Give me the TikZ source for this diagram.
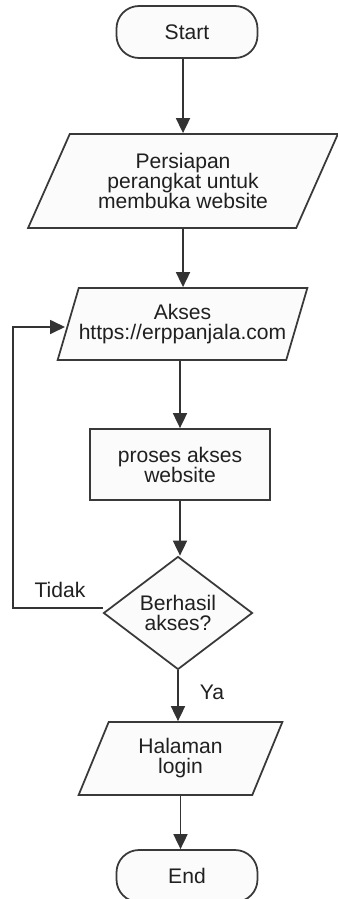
\documentclass[tikz,border=0pt]{standalone}
\usepackage{fontspec}
\setmainfont{Liberation Sans}
\usepackage{tikz}
\usetikzlibrary{shapes.geometric, arrows.meta, positioning}

\begin{document}
\begin{tikzpicture}[
    terminal/.style={rectangle, rounded corners=0.45cm, draw=gray!45!black, line width=1pt,
                     fill=gray!3, minimum width=2.82cm, minimum height=1.04cm},
    io/.style={trapezium, trapezium left angle=#1, trapezium right angle=180-#1,
               trapezium stretches=true, draw=gray!45!black, line width=1pt,
               fill=gray!3, inner sep=0pt, align=center},
    process/.style={rectangle, draw=gray!45!black, line width=1pt, fill=gray!3,
                    minimum width=3.6cm, minimum height=1.42cm, align=center},
    decision/.style={diamond, draw=gray!45!black, line width=1pt, fill=gray!3,
                     minimum width=2.98cm, minimum height=2.26cm, inner sep=0pt, align=center},
    label/.style={text=gray!25!black},
    flow/.style={-{Triangle[length=3mm, width=2.8mm]}, line width=1pt, draw=gray!40!black},
    font=\fontsize{12pt}{11.4pt}\selectfont, text=gray!25!black
]
    \useasboundingbox (0,0) rectangle (6.74,-17.98);

    % Start and first input
    \node[terminal] (start) at (3.74, -0.64) {Start};
    \node[io=60.6, minimum width=6.2cm, minimum height=1.88cm] (siap) at (3.66, -3.62)
        {Persiapan\\perangkat untuk\\membuka website};

    % Access website
    \node[io=62, minimum width=4.7cm, minimum height=1.44cm] (akses) at (3.65, -6.48)
        {Akses\\https://erppanjala.com};
    \node[process] (proses) at (3.60, -9.29) {proses akses\\website};

    % Check
    \node[decision] (cek) at (3.56, -12.26) {Berhasil\\akses?};

    % Login and end
    \node[io=66, minimum width=4.1cm, minimum height=1.46cm] (login) at (3.61, -15.17)
        {Halaman\\login};
    \node[terminal] (end) at (3.74, -17.52) {End};

    % Branch labels
    \node[label] (tidak) at (1.20, -11.80) {Tidak};
    \node[label] (ya) at (4.24, -13.84) {Ya};

    % Main flow
    \draw[flow] (siap.north |- start.south) -- (siap.north);
    \draw[flow] (siap.south) -- (siap.south |- akses.north);
    \draw[flow] (akses.south -| proses.north) -- (proses.north);
    \draw[flow] (proses.south) -- (proses.south |- cek.north);
    \draw[flow] (cek.south) -- (cek.south |- login.north);
    \draw[flow] (login.south) -- (login.south |- end.north);

    % Retry loop
    \coordinate (kiri) at (0.26, -12.16);
    \coordinate (balik) at (1.30, -6.54);
    \draw[flow] (cek.west |- kiri) -- (kiri) |- (balik);
\end{tikzpicture}
\end{document}
